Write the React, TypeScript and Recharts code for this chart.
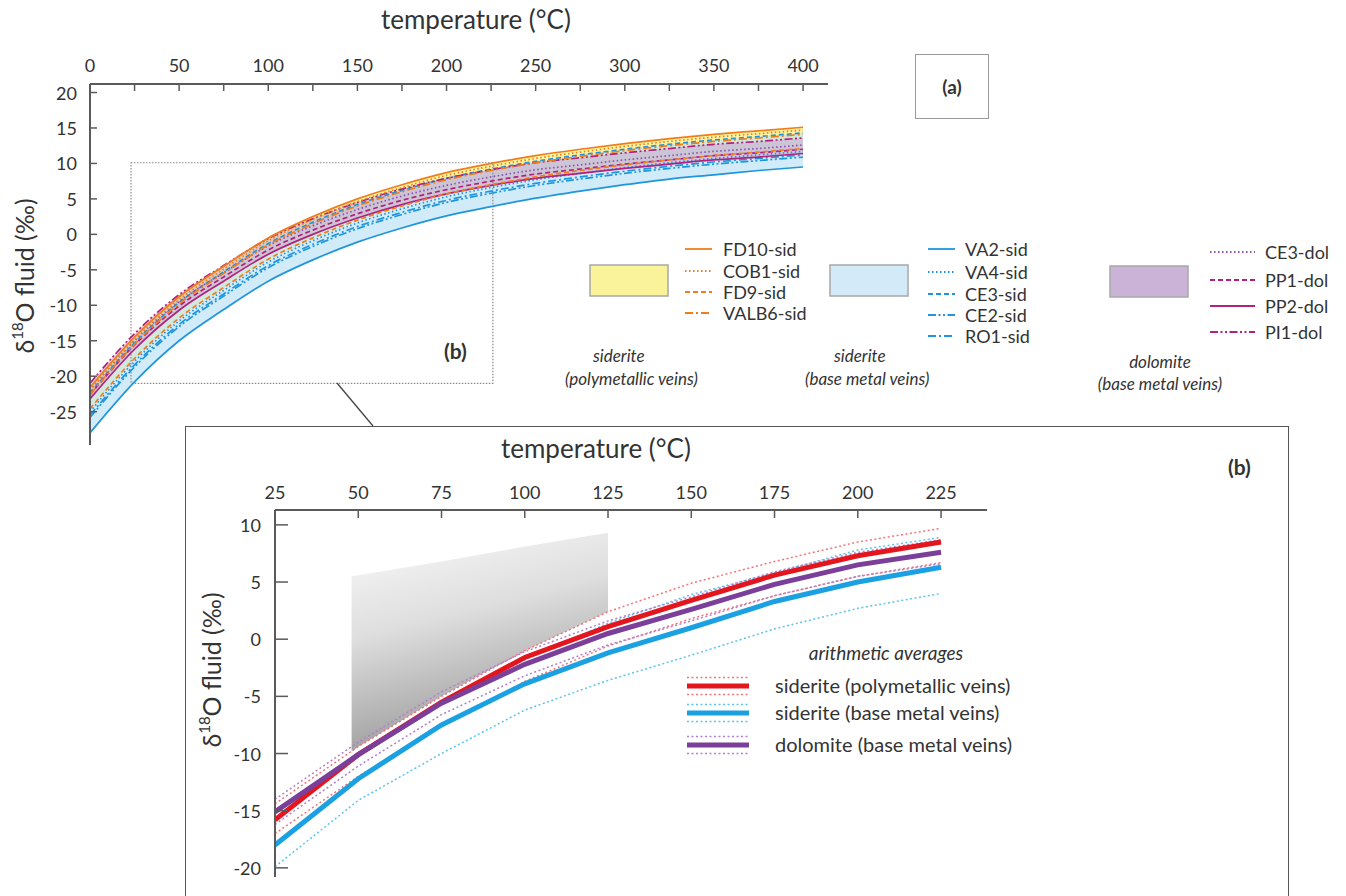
import React from 'react';
import { ComposedChart, Line, Area, XAxis, YAxis, ReferenceArea } from 'recharts';

const FONT = 'Lato, "Open Sans", sans-serif';
const AXIS = '#5a5a5a';
const TXT = '#333';

// ---------- (a) all samples, 0-400 °C ----------
const tempA = [0, 25, 50, 75, 100, 125, 150, 175, 200, 225, 250, 275, 300, 325, 350, 375, 400];

const fd10Sid = [-21.6, -14.5, -8.8, -4.5, -0.5, 2.5, 5.0, 7.0, 8.7, 10.0, 11.1, 12.0, 12.8, 13.5, 14.1, 14.6, 15.1];
const cob1Sid = [-22.0, -14.9, -9.2, -4.9, -0.9, 2.1, 4.6, 6.6, 8.3, 9.6, 10.7, 11.6, 12.4, 13.1, 13.7, 14.2, 14.7];
const fd9Sid = [-24.6, -17.5, -11.8, -7.5, -3.5, -0.5, 2.0, 4.0, 5.7, 7.0, 8.1, 9.0, 9.8, 10.5, 11.1, 11.6, 12.1];
const valb6Sid = [-22.6, -15.5, -9.8, -5.5, -1.5, 1.5, 4.0, 6.0, 7.7, 9.0, 10.1, 11.0, 11.8, 12.5, 13.1, 13.6, 14.1];

const va2Sid = [-28.0, -20.8, -15.0, -10.6, -6.6, -3.6, -1.1, 0.9, 2.6, 3.9, 5.1, 6.1, 7.0, 7.8, 8.4, 9.0, 9.5];
const va4Sid = [-25.0, -17.9, -12.2, -7.9, -3.9, -0.9, 1.6, 3.6, 5.3, 6.6, 7.7, 8.6, 9.4, 10.1, 10.7, 11.2, 11.7];
const ce3Sid = [-22.4, -15.3, -9.6, -5.3, -1.3, 1.7, 4.2, 6.2, 7.9, 9.2, 10.3, 11.2, 12.0, 12.7, 13.3, 13.8, 14.3];
const ce2Sid = [-25.8, -18.7, -13.0, -8.7, -4.7, -1.7, 0.8, 2.8, 4.5, 5.8, 6.9, 7.8, 8.6, 9.3, 9.9, 10.4, 10.9];
const ro1Sid = [-25.5, -18.4, -12.7, -8.4, -4.4, -1.4, 1.1, 3.1, 4.8, 6.1, 7.2, 8.1, 8.9, 9.6, 10.2, 10.7, 11.2];

const ce3Dol = [-22.0, -15.0, -9.5, -5.4, -1.6, 1.2, 3.5, 5.4, 6.9, 8.1, 9.1, 9.8, 10.5, 11.1, 11.7, 12.1, 12.6];
const pp1Dol = [-22.6, -15.6, -10.1, -6.0, -2.2, 0.6, 2.9, 4.8, 6.3, 7.5, 8.5, 9.2, 9.9, 10.5, 11.1, 11.5, 12.0];
const pp2Dol = [-23.2, -16.2, -10.7, -6.6, -2.8, 0.0, 2.3, 4.2, 5.7, 6.9, 7.9, 8.6, 9.3, 9.9, 10.5, 10.9, 11.4];
const pi1Dol = [-21.0, -14.0, -8.5, -4.4, -0.6, 2.2, 4.5, 6.4, 7.9, 9.1, 10.1, 10.8, 11.5, 12.1, 12.7, 13.1, 13.6];

const tickA = [0, 25, 50, 75, 100, 125, 150, 175, 200, 225, 250, 275, 300, 325, 350, 375, 400];
const yTickA = [-25, -20, -15, -10, -5, 0, 5, 10, 15, 20];

// ---------- (b) averages, 25-225 °C ----------
const tempB = [25, 50, 75, 100, 125, 150, 175, 200, 225];
const sidPolyMax = [-14.4, -9.4, -5.0, -1.0, 2.4, 4.9, 6.8, 8.5, 9.7];
const sidPolyAvg = [-15.8, -10.1, -5.5, -1.6, 1.1, 3.4, 5.6, 7.3, 8.5];
const sidPolyMin = [-17.0, -12.0, -7.6, -3.7, -0.6, 1.8, 3.8, 5.5, 6.7];
const sidBaseMax = [-15.2, -10.0, -5.6, -1.8, 1.4, 3.9, 5.8, 7.8, 8.9];
const sidBaseAvg = [-18.0, -12.2, -7.5, -3.9, -1.2, 1.0, 3.3, 5.0, 6.3];
const sidBaseMin = [-19.9, -14.1, -10.0, -6.2, -3.6, -1.4, 0.9, 2.7, 4.0];
const dolMax = [-14.0, -9.0, -4.6, -1.1, 1.6, 3.7, 5.9, 7.6, 8.7];
const dolAvg = [-15.1, -10.1, -5.6, -2.2, 0.5, 2.6, 4.8, 6.5, 7.6];
const dolMin = [-16.2, -11.1, -6.6, -3.2, -0.5, 1.6, 3.8, 5.5, 6.6];

// grey shaded window
const shadeT = [48, 50, 75, 100, 125];
const shadeLow = [-9.8, -9.4, -5.0, -1.0, 2.4];
const shadeHigh = [5.5, 5.6, 6.8, 8.1, 9.3];

const tickB = [25, 50, 75, 100, 125, 150, 175, 200, 225];
const yTickB = [-20, -15, -10, -5, 0, 5, 10];

const ORANGE = '#f07d1a';
const BLUE = '#1e96dd';
const MAGENTA = '#b3217f';
const PURPLE = '#8d4fb5';

const DOT = '1.5 2.5';
const DASH = '5 3';
const DASHDOT = '8 3 2 3';
const DASHDOTDOT = '8 2.5 2 2.5 2 2.5';

const polyA = [
  { key: 'FD10-sid', values: fd10Sid, color: ORANGE, dash: undefined },
  { key: 'COB1-sid', values: cob1Sid, color: ORANGE, dash: DOT },
  { key: 'FD9-sid', values: fd9Sid, color: ORANGE, dash: DASH },
  { key: 'VALB6-sid', values: valb6Sid, color: ORANGE, dash: DASHDOT },
];
const baseA = [
  { key: 'VA2-sid', values: va2Sid, color: BLUE, dash: undefined },
  { key: 'VA4-sid', values: va4Sid, color: BLUE, dash: DOT },
  { key: 'CE3-sid', values: ce3Sid, color: BLUE, dash: DASH },
  { key: 'CE2-sid', values: ce2Sid, color: BLUE, dash: DASHDOTDOT },
  { key: 'RO1-sid', values: ro1Sid, color: BLUE, dash: DASHDOT },
];
const dolA = [
  { key: 'CE3-dol', values: ce3Dol, color: PURPLE, dash: DOT },
  { key: 'PP1-dol', values: pp1Dol, color: MAGENTA, dash: DASH },
  { key: 'PP2-dol', values: pp2Dol, color: MAGENTA, dash: undefined },
  { key: 'PI1-dol', values: pi1Dol, color: MAGENTA, dash: DASHDOTDOT },
];

const range = (group: typeof polyA, i: number) => {
  const v = group.map(s => s.values[i]);
  return [Math.min(...v), Math.max(...v)];
};

const rowsA = tempA.map((t, i) => {
  const row: any = { t };
  [...polyA, ...baseA, ...dolA].forEach(s => (row[s.key] = s.values[i]));
  row.polyBand = range(polyA, i);
  row.baseBand = range(baseA, i);
  row.dolBand = range(dolA, i);
  return row;
});

const seriesB = [
  { key: 'polyMax', values: sidPolyMax, color: '#f47476', w: 1.5, dash: '2 2.5' },
  { key: 'polyMin', values: sidPolyMin, color: '#f47476', w: 1.5, dash: '2 2.5' },
  { key: 'baseMax', values: sidBaseMax, color: '#5cc4ee', w: 1.5, dash: '2 2.5' },
  { key: 'baseMin', values: sidBaseMin, color: '#5cc4ee', w: 1.5, dash: '2 2.5' },
  { key: 'dolMax', values: dolMax, color: '#b07fcf', w: 1.5, dash: '2 2.5' },
  { key: 'dolMin', values: dolMin, color: '#b07fcf', w: 1.5, dash: '2 2.5' },
  { key: 'baseAvg', values: sidBaseAvg, color: '#1ba1e2', w: 5, dash: undefined },
  { key: 'polyAvg', values: sidPolyAvg, color: '#e3161d', w: 5, dash: undefined },
  { key: 'dolAvg', values: dolAvg, color: '#7b3f99', w: 5, dash: undefined },
];

const tB = Array.from(new Set([...tempB, ...shadeT])).sort((a, b) => a - b);
const rowsB = tB.map(t => {
  const row: any = { t };
  const i = tempB.indexOf(t);
  if (i >= 0) seriesB.forEach(s => (row[s.key] = s.values[i]));
  const j = shadeT.indexOf(t);
  if (j >= 0) row.shade = [shadeLow[j], shadeHigh[j]];
  return row;
});

// plot frame inside each chart svg (same offsets for both charts)
const PT = 84;
const PL = 90;

const TopTickA = ({ x, payload }: any) => (
  <g>
    <line x1={x} x2={x} y1={PT} y2={PT + 7} stroke={AXIS} strokeWidth={1.5} />
    {payload.value % 50 === 0 && (
      <text x={x} y={PT - 19} textAnchor="middle" dominantBaseline="central" fontSize={18} fill={TXT} fontFamily={FONT}>
        {payload.value}
      </text>
    )}
  </g>
);

const LeftTickA = ({ y, payload }: any) => (
  <g>
    <line x1={PL} x2={PL + 7} y1={y} y2={y} stroke={AXIS} strokeWidth={1.5} />
    <text x={PL - 13} y={y} textAnchor="end" dominantBaseline="central" fontSize={18} fill={TXT} fontFamily={FONT}>
      {payload.value}
    </text>
  </g>
);

const TopTickB = ({ x, payload }: any) => (
  <g>
    <line x1={x} x2={x} y1={PT} y2={PT + 8} stroke={AXIS} strokeWidth={1.5} />
    <text x={x} y={PT - 18} textAnchor="middle" dominantBaseline="central" fontSize={18} fill={TXT} fontFamily={FONT}>
      {payload.value}
    </text>
  </g>
);

const LeftTickB = ({ y, payload }: any) => (
  <g>
    <line x1={PL} x2={PL + 13} y1={y} y2={y} stroke={AXIS} strokeWidth={1.5} />
    <text x={PL - 14} y={y} textAnchor="end" dominantBaseline="central" fontSize={18} fill={TXT} fontFamily={FONT}>
      {payload.value}
    </text>
  </g>
);

const YLabel = ({ left, top }: { left: number; top: number }) => (
  <div
    style={{
      position: 'absolute', left, top, width: 0, height: 0,
      fontFamily: FONT, fontSize: 25, color: TXT, whiteSpace: 'nowrap',
    }}
  >
    <div style={{ position: 'absolute', transform: 'translate(-50%, -50%) rotate(-90deg)' }}>
      δ<sup style={{ fontSize: 15, verticalAlign: 'top', position: 'relative', top: -1 }}>18</sup>O fluid (‰)
    </div>
  </div>
);

const Txt = (p: { x: number; y: number; children: any; size?: number; italic?: boolean; bold?: boolean; anchor?: string; color?: string }) => (
  <text
    x={p.x}
    y={p.y}
    textAnchor={(p.anchor as any) || 'start'}
    dominantBaseline="central"
    fontSize={p.size || 18}
    fontStyle={p.italic ? 'italic' : 'normal'}
    fontWeight={p.bold ? 700 : 400}
    fill={p.color || TXT}
    fontFamily={FONT}
  >
    {p.children}
  </text>
);

const legendRowsA = [
  { s: polyA[0], y: 249 }, { s: polyA[1], y: 271 }, { s: polyA[2], y: 292 }, { s: polyA[3], y: 313 },
];
const legendRowsB = [
  { s: baseA[0], y: 249 }, { s: baseA[1], y: 272 }, { s: baseA[2], y: 294 }, { s: baseA[3], y: 315 }, { s: baseA[4], y: 336 },
];
const legendRowsC = [
  { s: dolA[0], y: 252 }, { s: dolA[1], y: 280 }, { s: dolA[2], y: 306 }, { s: dolA[3], y: 332 },
];

export default function App() {
  return (
    <div style={{ position: 'absolute', left: 0, top: 0, width: 1346, height: 896, overflow: 'hidden', background: '#fff' }}>
      {/* (a) overview */}
      <div style={{ position: 'absolute', left: 0, top: 0 }}>
        <ComposedChart width={850} height={460} data={rowsA} margin={{ top: 54, left: 30, right: 22, bottom: 15 }}>
          <XAxis
            dataKey="t" type="number" orientation="top" domain={[0, 414]} ticks={tickA} height={30}
            axisLine={{ stroke: AXIS, strokeWidth: 2 }} tickLine={false} tick={TopTickA} interval={0} allowDataOverflow
          />
          <YAxis
            type="number" domain={[-29.7, 21.2]} ticks={yTickA} width={60}
            axisLine={{ stroke: AXIS, strokeWidth: 2 }} tickLine={false} tick={LeftTickA} interval={0} allowDataOverflow
          />
          <Area type="monotone" dataKey="polyBand" fill="#fbf07d" fillOpacity={0.75} stroke="none" isAnimationActive={false} />
          <Area type="monotone" dataKey="baseBand" fill="#bfe2f7" fillOpacity={0.7} stroke="none" isAnimationActive={false} />
          <Area type="monotone" dataKey="dolBand" fill="#c8a8cf" fillOpacity={0.55} stroke="none" isAnimationActive={false} />
          {[...baseA, ...dolA, ...polyA].map(s => (
            <Line
              key={s.key} type="monotone" dataKey={s.key} stroke={s.color} strokeWidth={1.7}
              strokeDasharray={s.dash} dot={false} isAnimationActive={false}
            />
          ))}
          <ReferenceArea x1={23} x2={226} y1={-21} y2={10.1} fill="none" stroke="#8a8a8a" strokeWidth={1.2} strokeDasharray="1.5 1.5" />
        </ComposedChart>
      </div>

      {/* titles and annotations of (a) */}
      <div style={{ position: 'absolute', left: 381, top: 3, fontFamily: FONT, fontSize: 26, color: TXT }}>temperature (°C)</div>
      <YLabel left={24} top={276} />
      <div style={{ position: 'absolute', left: 444, top: 338, fontFamily: FONT, fontSize: 21, fontWeight: 700, color: TXT }}>(b)</div>
      <div
        style={{
          position: 'absolute', left: 915, top: 54, width: 72, height: 63, border: '1.5px solid #9a9a9a',
          display: 'flex', alignItems: 'center', justifyContent: 'center',
          fontFamily: FONT, fontSize: 19, fontWeight: 700, color: TXT,
        }}
      >
        (a)
      </div>

      {/* legend of (a) and connector */}
      <svg width={1346} height={896} style={{ position: 'absolute', left: 0, top: 0 }}>
        <line x1={337} y1={383} x2={373} y2={426} stroke="#444" strokeWidth={1.3} />

        <rect x={590} y={265} width={78} height={31} fill="#fbf39a" stroke="#a8a8a8" strokeWidth={1.5} />
        {legendRowsA.map(r => (
          <g key={r.s.key}>
            <line x1={685} x2={712} y1={r.y} y2={r.y} stroke={r.s.color} strokeWidth={1.8} strokeDasharray={r.s.dash} />
            <Txt x={723} y={r.y}>{r.s.key}</Txt>
          </g>
        ))}
        <Txt x={593} y={355} italic size={17}>siderite</Txt>
        <Txt x={565} y={378} italic size={17}>(polymetallic veins)</Txt>

        <rect x={830} y={265} width={78} height={31} fill="#d3ebf9" stroke="#a8a8a8" strokeWidth={1.5} />
        {legendRowsB.map(r => (
          <g key={r.s.key}>
            <line x1={928} x2={955} y1={r.y} y2={r.y} stroke={r.s.color} strokeWidth={1.8} strokeDasharray={r.s.dash} />
            <Txt x={965} y={r.y}>{r.s.key}</Txt>
          </g>
        ))}
        <Txt x={834} y={355} italic size={17}>siderite</Txt>
        <Txt x={805} y={378} italic size={17}>(base metal veins)</Txt>

        <rect x={1110} y={266} width={78} height={31} fill="#cbb3d8" stroke="#a8a8a8" strokeWidth={1.5} />
        {legendRowsC.map(r => (
          <g key={r.s.key}>
            <line x1={1210} x2={1255} y1={r.y} y2={r.y} stroke={r.s.color} strokeWidth={2} strokeDasharray={r.s.dash} />
            <Txt x={1265} y={r.y}>{r.s.key}</Txt>
          </g>
        ))}
        <Txt x={1160} y={361} italic size={17} anchor="middle">dolomite</Txt>
        <Txt x={1160} y={383} italic size={17} anchor="middle">(base metal veins)</Txt>
      </svg>

      {/* (b) inset */}
      <div style={{ position: 'absolute', left: 185, top: 426, width: 1104, height: 520, border: '1.5px solid #555', background: '#fff', boxSizing: 'border-box' }} />
      <div style={{ position: 'absolute', left: 185, top: 426 }}>
        <ComposedChart width={815} height={470} data={rowsB} margin={{ top: 54, left: 30, right: 13, bottom: 19 }}>
          <defs>
            <linearGradient id="shadeGrad" x1="0" y1="0" x2="0.3" y2="1">
              <stop offset="0" stopColor="#fafafa" />
              <stop offset="0.45" stopColor="#dedede" />
              <stop offset="1" stopColor="#9a9a9a" />
            </linearGradient>
          </defs>
          <XAxis
            dataKey="t" type="number" orientation="top" domain={[25, 238.8]} ticks={tickB} height={30}
            axisLine={{ stroke: AXIS, strokeWidth: 2 }} tickLine={false} tick={TopTickB} interval={0} allowDataOverflow
          />
          <YAxis
            type="number" domain={[-20.8, 11.3]} ticks={yTickB} width={60}
            axisLine={{ stroke: AXIS, strokeWidth: 2 }} tickLine={false} tick={LeftTickB} interval={0} allowDataOverflow
          />
          <Area type="linear" dataKey="shade" fill="url(#shadeGrad)" fillOpacity={1} stroke="none" isAnimationActive={false} />
          {seriesB.map(s => (
            <Line
              key={s.key} type="linear" dataKey={s.key} stroke={s.color} strokeWidth={s.w}
              strokeDasharray={s.dash} dot={false} connectNulls isAnimationActive={false}
            />
          ))}
        </ComposedChart>
      </div>

      <div style={{ position: 'absolute', left: 501, top: 432, fontFamily: FONT, fontSize: 26, color: TXT }}>temperature (°C)</div>
      <div style={{ position: 'absolute', left: 1228, top: 454, fontFamily: FONT, fontSize: 21, fontWeight: 700, color: TXT }}>(b)</div>
      <YLabel left={211} top={670} />

      {/* legend of (b) */}
      <svg width={1346} height={896} style={{ position: 'absolute', left: 0, top: 0 }}>
        <Txt x={886} y={652} italic size={19} anchor="middle">arithmetic averages</Txt>
        {[
          { y: 686, c: '#e3161d', d: '#f47476', label: 'siderite (polymetallic veins)' },
          { y: 713, c: '#1ba1e2', d: '#5cc4ee', label: 'siderite (base metal veins)' },
          { y: 745, c: '#7b3f99', d: '#b07fcf', label: 'dolomite (base metal veins)' },
        ].map(r => (
          <g key={r.label}>
            <line x1={687} x2={749} y1={r.y - 8.5} y2={r.y - 8.5} stroke={r.d} strokeWidth={1.5} strokeDasharray="2 2.5" />
            <line x1={687} x2={749} y1={r.y} y2={r.y} stroke={r.c} strokeWidth={5} />
            <line x1={687} x2={749} y1={r.y + 8.5} y2={r.y + 8.5} stroke={r.d} strokeWidth={1.5} strokeDasharray="2 2.5" />
            <Txt x={775} y={r.y - 1} size={20}>{r.label}</Txt>
          </g>
        ))}
      </svg>
    </div>
  );
}
